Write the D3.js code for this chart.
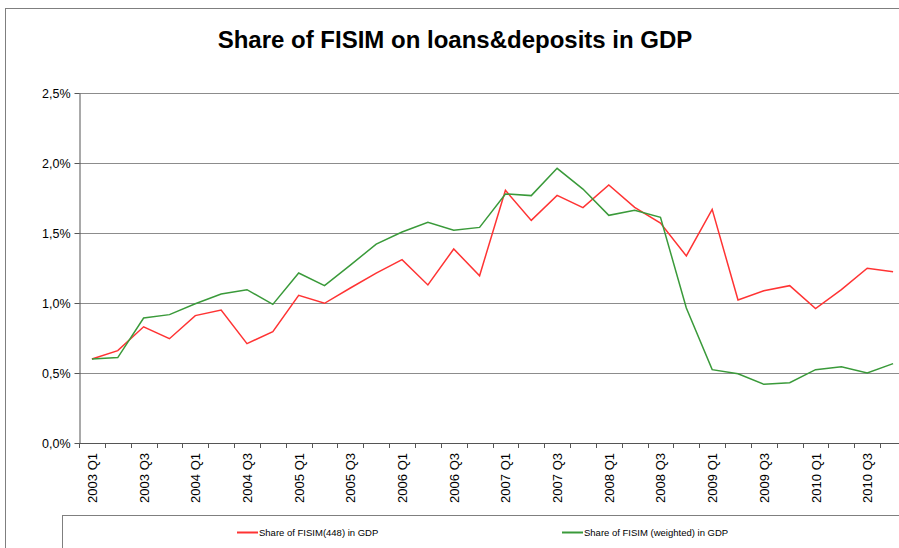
<!DOCTYPE html>
<html><head><meta charset="utf-8">
<script src="https://cdn.jsdelivr.net/npm/d3@7"></script>
<style>
body{margin:0;background:#fff;overflow:hidden}
svg{display:block;font-family:"Liberation Sans",Arial,sans-serif}
</style></head>
<body>
<svg id="chart" width="899" height="548"></svg>
<script>
const quarters = [];
const years = [2003,2004,2005,2006,2007,2008,2009,2010];
years.forEach(y => ["Q1","Q2","Q3","Q4"].forEach(q => quarters.push(y + " " + q)));

const fisim448 = [0.60,0.66,0.83,0.745,0.91,0.95,0.71,0.795,1.055,0.998,1.107,1.214,1.31,1.129,1.386,1.195,1.805,1.59,1.769,1.681,1.843,1.683,1.571,1.336,1.669,1.021,1.088,1.124,0.96,1.095,1.248,1.224];
const fisimWeighted = [0.60,0.61,0.893,0.917,0.995,1.064,1.095,0.99,1.214,1.124,1.27,1.421,1.507,1.576,1.519,1.54,1.779,1.767,1.962,1.814,1.626,1.662,1.612,0.964,0.524,0.495,0.419,0.431,0.524,0.545,0.50,0.567];
const yTicks = [0,0.5,1.0,1.5,2.0,2.5];
const seriesNames = ["Share of FISIM(448) in GDP","Share of FISIM (weighted) in GDP"];
const seriesColors = ["#ff3333","#3a9a3a"];
const title = "Share of FISIM on loans&deposits in GDP";

const svg = d3.select("#chart");
const pL = 79, pR = 906, pT = 93, pB = 443;

// outer chart border
svg.append("rect").attr("x",5.5).attr("y",8.5).attr("width",1000).attr("height",1000)
  .attr("fill","none").attr("stroke","#7f7f7f").attr("stroke-width",1);

svg.append("text").attr("x",455).attr("y",48).attr("text-anchor","middle")
  .attr("font-size",24).attr("font-weight","bold").attr("fill","#000").text(title);

const x = d3.scaleBand().domain(quarters).range([pL,pR]).padding(0);
const y = d3.scaleLinear().domain([0,2.5]).range([pB,pT]);

// gridlines
svg.append("g").selectAll("line").data(yTicks.filter(d=>d>0)).join("line")
  .attr("x1",pL).attr("x2",pR)
  .attr("y1",d=>Math.round(y(d))+0.5).attr("y2",d=>Math.round(y(d))+0.5)
  .attr("stroke","#8c8c8c").attr("stroke-width",1);

// y axis
const fmt = d => d3.format(".1f")(d).replace(".",",") + "%";
const yAxis = svg.append("g").attr("transform",`translate(${pL+0.5},0)`)
  .call(d3.axisLeft(y).tickValues(yTicks).tickFormat(fmt).tickSize(5).tickSizeOuter(0));
yAxis.select(".domain").attr("stroke","#555");
yAxis.selectAll(".tick line").attr("stroke","#555");
yAxis.selectAll(".tick text").attr("font-size",12.5).attr("font-family","Liberation Sans, Arial").attr("fill","#000").attr("x",-9).attr("dy","0.34em");

// x axis line and ticks at band boundaries
const xg = svg.append("g");
xg.append("line").attr("x1",pL).attr("x2",pR).attr("y1",pB+0.5).attr("y2",pB+0.5).attr("stroke","#555");
xg.selectAll("line.tk").data(quarters.concat(["end"])).join("line").attr("class","tk")
  .attr("x1",(d,i)=>Math.round(pL + i*x.bandwidth())+0.5)
  .attr("x2",(d,i)=>Math.round(pL + i*x.bandwidth())+0.5)
  .attr("y1",pB).attr("y2",pB+5).attr("stroke","#555");
xg.selectAll("text").data(quarters.filter((d,i)=>i%2===0)).join("text")
  .attr("transform",d=>`translate(${x(d)+x.bandwidth()/2+5},453) rotate(-90)`)
  .attr("text-anchor","end").attr("font-size",13).attr("fill","#000").text(d=>d);

// lines
const line = d3.line().x((d,i)=>x(quarters[i])+x.bandwidth()/2).y(d=>y(d));
[fisim448, fisimWeighted].forEach((s,k)=>{
  svg.append("path").datum(s).attr("d",line).attr("fill","none")
    .attr("stroke",seriesColors[k]).attr("stroke-width",1.5).attr("stroke-linejoin","miter");
});

// legend
svg.append("rect").attr("x",62.5).attr("y",515.5).attr("width",1000).attr("height",100)
  .attr("fill","none").attr("stroke","#7f7f7f");
const legX = [237,562];
seriesNames.forEach((n,k)=>{
  svg.append("line").attr("x1",legX[k]).attr("x2",legX[k]+21).attr("y1",532.5).attr("y2",532.5)
    .attr("stroke",seriesColors[k]).attr("stroke-width",2);
  svg.append("text").attr("x",legX[k]+22).attr("y",536).attr("font-size",9.5).attr("fill","#000").text(n);
});
</script>
</body></html>
